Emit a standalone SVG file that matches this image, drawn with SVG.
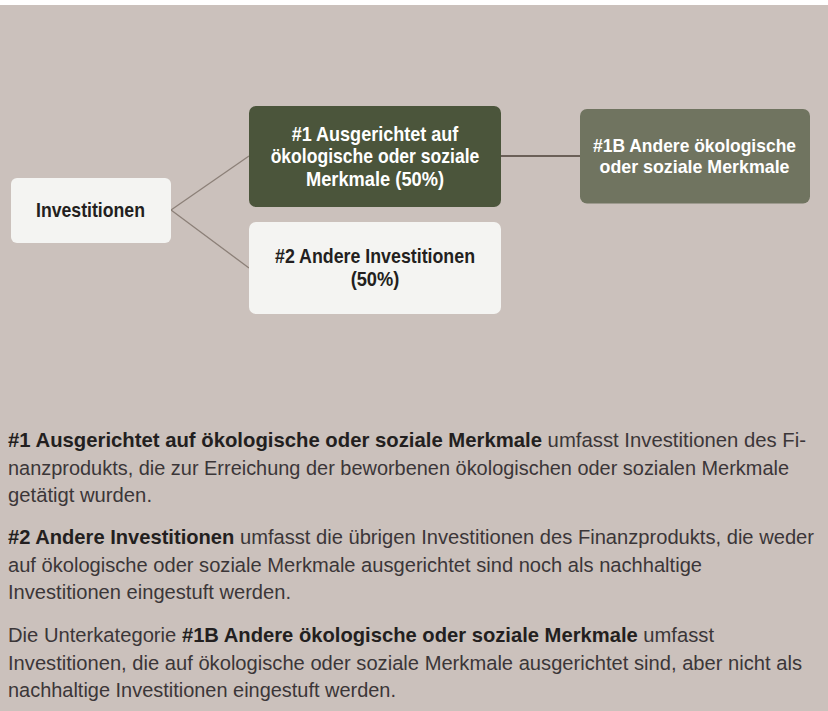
<svg xmlns="http://www.w3.org/2000/svg" width="828" height="711" viewBox="0 0 828 711">
<style>
.bg{fill:#cbc1bc}
.t{font-family:"Liberation Sans Narrow","Liberation Sans",Arial,sans-serif}
.nb{font-size:21px;font-weight:bold;text-anchor:middle}
.nb19{font-size:19px}
.dark{fill:#231f20}
.white{fill:#ffffff}
.p{font-size:20.5px;fill:#3b3638}
.b{font-weight:bold;fill:#231f20}
.conn{stroke:#8c8078;stroke-width:1.3;fill:none}
.conn2{stroke:#6b6058;stroke-width:2;fill:none}
</style>
<rect x="0" y="0" width="828" height="711" fill="#ffffff"/>
<rect class="bg" x="0" y="5" width="828" height="706"/>
<g id="connectors">
<line class="conn" x1="171" y1="210" x2="249" y2="156"/>
<line class="conn" x1="171" y1="210" x2="249" y2="268"/>
<line class="conn2" x1="501" y1="156" x2="580" y2="156"/>
</g>
<g id="node-investitionen">
<rect x="11" y="178" width="160" height="65" rx="6" fill="#f4f4f2"/>
<text class="t nb dark" x="90.5" y="216.7" textLength="109" lengthAdjust="spacingAndGlyphs">Investitionen</text>
</g>
<g id="node-1">
<rect x="249" y="106" width="252" height="101" rx="7" fill="#4b553b"/>
<text class="t nb white" x="375" y="140.7" textLength="166.7" lengthAdjust="spacingAndGlyphs">#1 Ausgerichtet auf</text>
<text class="t nb white" x="375" y="163.3" textLength="208.7" lengthAdjust="spacingAndGlyphs">ökologische oder soziale</text>
<text class="t nb white" x="375" y="185.5" textLength="138" lengthAdjust="spacingAndGlyphs">Merkmale (50%)</text>
</g>
<g id="node-2">
<rect x="249" y="222" width="252" height="92" rx="7" fill="#f4f4f2"/>
<text class="t nb dark" x="375" y="263.3" textLength="200" lengthAdjust="spacingAndGlyphs">#2 Andere Investitionen</text>
<text class="t nb dark" x="375" y="285.5" textLength="48.7" lengthAdjust="spacingAndGlyphs">(50%)</text>
</g>
<g id="node-1b">
<rect x="580" y="109" width="230" height="94.5" rx="7" fill="#707460"/>
<text class="t nb nb19 white" x="694.5" y="151.7" textLength="203" lengthAdjust="spacingAndGlyphs">#1B Andere ökologische</text>
<text class="t nb nb19 white" x="694.5" y="173.3" textLength="190" lengthAdjust="spacingAndGlyphs">oder soziale Merkmale</text>
</g>
<g id="legend">
<text class="t p" x="8" y="447" textLength="798" lengthAdjust="spacingAndGlyphs"><tspan class="b">#1 Ausgerichtet auf ökologische oder soziale Merkmale</tspan> umfasst Investitionen des Fi-</text>
<text class="t p" x="8" y="474.5" textLength="781" lengthAdjust="spacingAndGlyphs">nanzprodukts, die zur Erreichung der beworbenen ökologischen oder sozialen Merkmale</text>
<text class="t p" x="8" y="502" textLength="144" lengthAdjust="spacingAndGlyphs">getätigt wurden.</text>
<text class="t p" x="8" y="544" textLength="806" lengthAdjust="spacingAndGlyphs"><tspan class="b">#2 Andere Investitionen</tspan> umfasst die übrigen Investitionen des Finanzprodukts, die weder</text>
<text class="t p" x="8" y="571.5" textLength="694" lengthAdjust="spacingAndGlyphs">auf ökologische oder soziale Merkmale ausgerichtet sind noch als nachhaltige</text>
<text class="t p" x="8" y="599" textLength="283" lengthAdjust="spacingAndGlyphs">Investitionen eingestuft werden.</text>
<text class="t p" x="8" y="642" textLength="706" lengthAdjust="spacingAndGlyphs">Die Unterkategorie <tspan class="b">#1B Andere ökologische oder soziale Merkmale</tspan> umfasst</text>
<text class="t p" x="8" y="669.5" textLength="794" lengthAdjust="spacingAndGlyphs">Investitionen, die auf ökologische oder soziale Merkmale ausgerichtet sind, aber nicht als</text>
<text class="t p" x="8" y="697" textLength="388" lengthAdjust="spacingAndGlyphs">nachhaltige Investitionen eingestuft werden.</text>
</g>
</svg>
